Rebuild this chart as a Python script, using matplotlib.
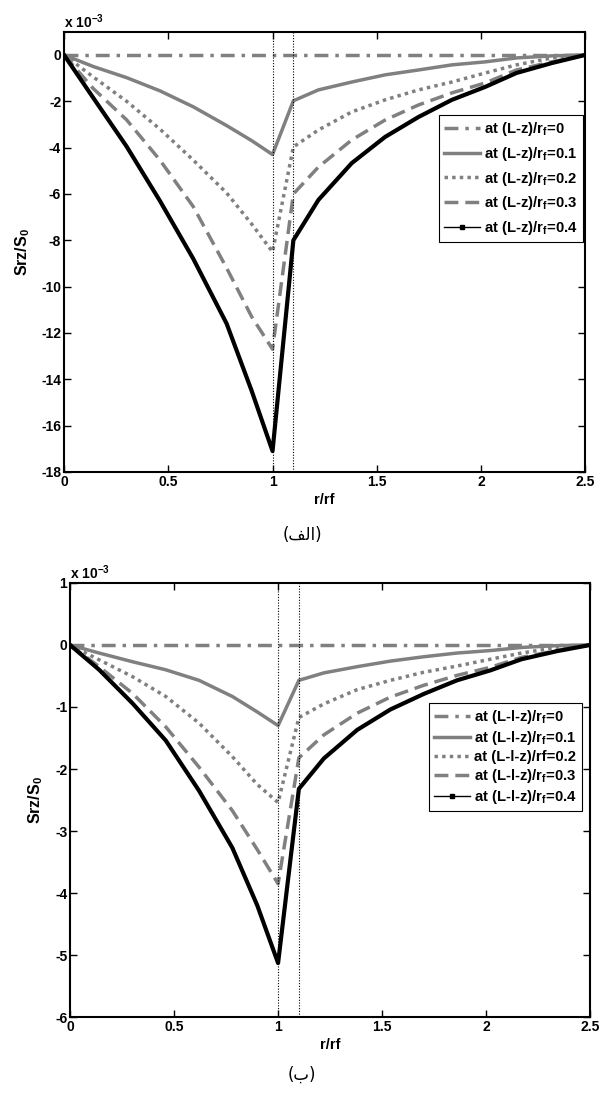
import numpy as np
import matplotlib
matplotlib.use('Agg')
import matplotlib.pyplot as plt
from matplotlib.lines import Line2D

plt.rcParams['font.family'] = ['Liberation Sans', 'DejaVu Sans']
plt.rcParams['font.weight'] = 'bold'
plt.rcParams['axes.labelweight'] = 'bold'
plt.rcParams['axes.unicode_minus'] = False
plt.rcParams['mathtext.fontset'] = 'custom'
plt.rcParams['mathtext.rm'] = 'Liberation Sans:bold'
plt.rcParams['mathtext.it'] = 'Liberation Sans:bold'
plt.rcParams['mathtext.bf'] = 'Liberation Sans:bold'
plt.rcParams['mathtext.default'] = 'rm'

# radial positions r/rf (left of the fibre end, then right of it)
r = [0, 0.14, 0.30, 0.46, 0.62, 0.78, 0.90, 1.0,
     1.1, 1.22, 1.38, 1.54, 1.70, 1.86, 2.02, 2.17, 2.34, 2.5]

# panel (a): Srz/S0 x 1e3 at (L-z)/rf
a_00 = [0] * 18
a_01 = [0, -0.5, -0.98, -1.55, -2.24, -3.05, -3.7, -4.3,
        -1.98, -1.51, -1.17, -0.86, -0.65, -0.43, -0.3, -0.13, -0.04, 0]
a_02 = [0, -0.95, -2.0, -3.2, -4.54, -5.96, -7.3, -8.5,
        -3.97, -3.24, -2.46, -1.94, -1.51, -1.17, -0.78, -0.43, -0.13, 0]
a_03 = [0, -1.45, -2.8, -4.54, -6.55, -9.2, -11.3, -12.7,
        -6.0, -4.84, -3.67, -2.81, -2.16, -1.64, -1.21, -0.65, -0.3, 0]
a_04 = [0, -1.85, -3.95, -6.3, -8.8, -11.6, -14.5, -17.1,
        -8.0, -6.26, -4.67, -3.54, -2.68, -1.94, -1.38, -0.78, -0.35, 0]

# panel (b): Srz/S0 x 1e3 at (L-l-z)/rf
b_00 = [0] * 18
b_01 = [0, -0.13, -0.27, -0.4, -0.57, -0.83, -1.08, -1.3,
        -0.57, -0.45, -0.35, -0.26, -0.19, -0.13, -0.09, -0.04, -0.01, 0]
b_02 = [0, -0.24, -0.51, -0.83, -1.26, -1.8, -2.25, -2.54,
        -1.17, -0.95, -0.72, -0.57, -0.44, -0.34, -0.23, -0.13, -0.04, 0]
b_03 = [0, -0.35, -0.78, -1.32, -1.97, -2.67, -3.3, -3.85,
        -1.82, -1.45, -1.1, -0.84, -0.65, -0.49, -0.36, -0.2, -0.09, 0]
b_04 = [0, -0.4, -0.94, -1.54, -2.35, -3.27, -4.2, -5.13,
        -2.32, -1.83, -1.37, -1.04, -0.79, -0.57, -0.41, -0.23, -0.1, 0]

labels_a = ['at (L-z)/r$_f$=0', 'at (L-z)/r$_f$=0.1', 'at (L-z)/r$_f$=0.2',
            'at (L-z)/r$_f$=0.3', 'at (L-z)/r$_f$=0.4']
labels_b = ['at (L-l-z)/r$_f$=0', 'at (L-l-z)/r$_f$=0.1', 'at (L-l-z)/rf=0.2',
            'at (L-l-z)/r$_f$=0.3', 'at (L-l-z)/r$_f$=0.4']

gray = '#808080'
styles = [dict(color=gray, lw=2.5, dashes=(4, 2, 1, 2)),
          dict(color=gray, lw=2.5, ls='-'),
          dict(color=gray, lw=2.5, ls=(0, (1, 1.2))),
          dict(color=gray, lw=2.5, dashes=(4, 2)),
          dict(color='k', lw=3.0, ls='-')]

fig = plt.figure(figsize=(6.04, 10.95), dpi=100)
ax1 = fig.add_axes([0.106, 0.569, 0.863, 0.402])
ax2 = fig.add_axes([0.116, 0.0712, 0.861, 0.3964])


def draw(ax, series, labels, ylim, yticks, leg_box, spacing):
    for s, st in zip(series, styles):
        ax.plot(r, s, **st)
    ax.axvline(1.0, color='k', lw=0.8, ls=(0, (1, 1.5)))
    ax.axvline(1.1, color='k', lw=0.8, ls=(0, (1, 1.5)))
    ax.set_xlim(0, 2.5)
    ax.set_ylim(*ylim)
    ax.set_xticks([0, 0.5, 1, 1.5, 2, 2.5])
    ax.set_xticklabels(['0', '0.5', '1', '1.5', '2', '2.5'])
    ax.set_yticks(yticks)
    ax.tick_params(direction='in', length=5, width=1, top=True, right=True,
                   labelsize=10, pad=2)
    for lab in ax.get_xticklabels() + ax.get_yticklabels():
        lab.set_fontweight('bold')
    for sp in ax.spines.values():
        sp.set_linewidth(1.5)
    ax.set_xlabel('r/rf', fontsize=10.5, fontweight='bold', labelpad=3)
    ax.set_ylabel('Srz/S$_0$', fontsize=11.5, fontweight='bold', labelpad=7)
    ax.text(0.0, 1.002, 'x 10$^{-3}$', transform=ax.transAxes, fontsize=10,
            ha='left', va='bottom')
    handles = []
    for st in styles[:4]:
        handles.append(Line2D([], [], **st))
    handles.append(Line2D([], [], color='k', lw=1, marker='s', ms=2.5))
    leg = ax.legend(handles, labels, loc='upper right', bbox_to_anchor=leg_box,
                    fontsize=10.7, frameon=True, fancybox=False, framealpha=1,
                    edgecolor='k', handlelength=2.4, handletextpad=0.3,
                    labelspacing=spacing, borderpad=0.35, borderaxespad=0,
                    numpoints=1)
    leg.get_frame().set_linewidth(0.8)


draw(ax1, [a_00, a_01, a_02, a_03, a_04], labels_a, (-18, 1),
     np.arange(-18, 1, 2), (0.996, 0.811), 0.45)
draw(ax2, [b_00, b_01, b_02, b_03, b_04], labels_b, (-6, 1),
     np.arange(-6, 2, 1), (0.985, 0.724), 0.2)

# captions (Persian, written in visual order with presentation forms)
fig.text(0.5, 1 - 535 / 1095, '(\ufed2\ufedf\ufe8d)', ha='center', va='center',
         fontsize=12, fontweight='normal', family='DejaVu Sans')
fig.text(0.5, 1 - 1075 / 1095, '(\ufe8f)', ha='center', va='center',
         fontsize=12, fontweight='normal', family='DejaVu Sans')

fig.savefig('out.png', dpi=100)
